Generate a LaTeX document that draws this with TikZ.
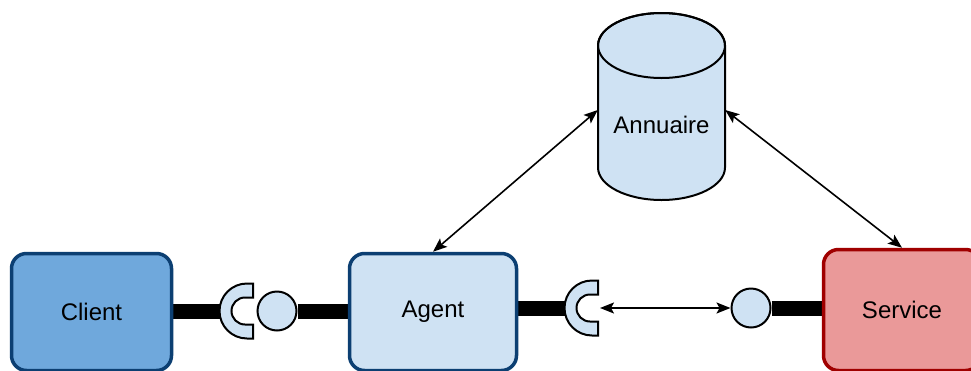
\documentclass[tikz,border=0pt]{standalone}
\usepackage{fontspec}
\setmainfont{Liberation Sans}
\usetikzlibrary{arrows.meta,backgrounds}
\definecolor{clientblue}{HTML}{6FA8DC}
\definecolor{paleblue}{HTML}{CFE2F3}
\definecolor{darkblue}{HTML}{0C3F72}
\definecolor{servicered}{HTML}{EA9999}
\definecolor{darkred}{HTML}{A00000}

\begin{document}
\begin{tikzpicture}[x=1pt, y=1pt,
        font=\fontsize{24}{28}\selectfont,
        boite/.style={draw, line width=3.5pt, rounded corners=15pt, inner sep=0pt},
        bille/.style={circle, draw, line width=2pt, fill=paleblue, minimum size=39pt, inner sep=0pt},
        barre/.style={line width=15pt},
        fleche/.style={line width=1.6pt, {Stealth[length=14pt,width=11pt,inset=3pt]}-{Stealth[length=14pt,width=11pt,inset=3pt]}},
        pics/prise/.style={code={
                \draw[line width=2pt, fill=paleblue] (0,27.5) -- (-6,27.5) arc[start angle=90, end angle=270, radius=27.5] -- (0,-27.5) -- (0,-13.5) -- (-8,-13.5) arc[start angle=270, end angle=90, radius=13.5] -- (0,13.5) -- cycle;
                \coordinate (-w) at (-33.5,0);
                \coordinate (-e) at (0,0);
            }}]
                \useasboundingbox (0,0) rectangle (971,-370);
                
                \node (client) [boite, fill=clientblue, draw=darkblue, minimum width=160pt, minimum height=117pt] at (91.5,-312) {Client};
                \node (agent) [boite, fill=paleblue, draw=darkblue, minimum width=167pt, minimum height=117pt] at (433,-312) {Agent};
                \node (service) [boite, fill=servicered, draw=darkred, minimum width=157pt, minimum height=121pt] at (902,-310) {Service};
                
                \draw[line width=2pt, fill=paleblue] (598,-45.5) -- (598,-167.5) arc[start angle=180, end angle=360, x radius=63.5, y radius=32.5] -- (725,-45.5) arc[start angle=0, end angle=180, x radius=63.5, y radius=32.5] -- cycle;
                \draw[line width=2pt] (661.5,-45.5) ellipse [x radius=63.5, y radius=32.5];
                \node (annuaire) [minimum width=127pt, inner sep=0pt] at (661.5,-125) {Annuaire};
                
                \pic (s1) at (253,-311) {prise};
                \node (bille1) [bille] at (277,-311) {};
                \pic (s2) at (598,-308) {prise};
                \node (bille2) [bille] at (751,-308) {};
                
                % barres sous les noeuds
                \begin{scope}[on background layer]
                \draw[barre] (client.east |- s1-w) -- (s1-w);
                \draw[barre] (bille1.east) -- (agent.west |- bille1.east);
                \draw[barre] (agent.east |- s2-w) -- (s2-w);
                \draw[barre] (bille2.east) -- (service.west |- bille2.east);
                \end{scope}
                
                \draw[fleche] (agent.north) -- ([yshift=15pt]annuaire.west);
                \draw[fleche] ([yshift=15pt]annuaire.east) -- (service.north);
                \draw[fleche] ([xshift=2pt]s2-e) -- (bille2.west);
                \end{tikzpicture}
\end{document}
